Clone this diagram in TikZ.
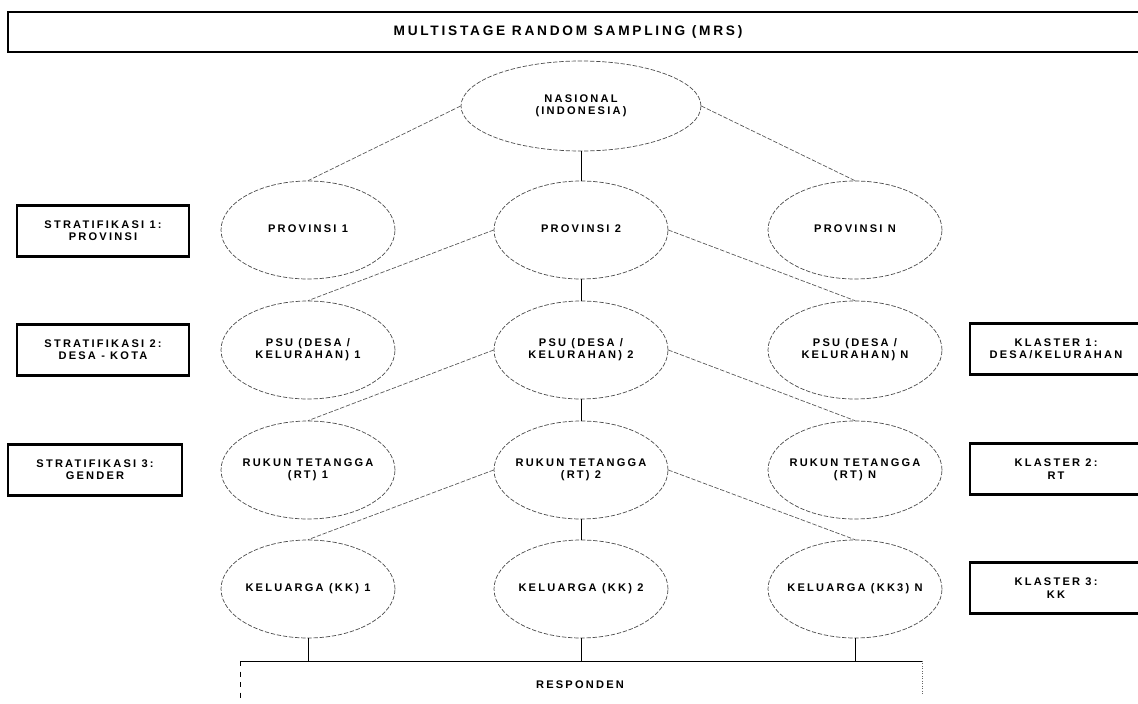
\documentclass[tikz,border=0pt]{standalone}
\usepackage{fontspec}
\usepackage{tikz}
\usetikzlibrary{shapes.geometric}
\newfontfamily\spaced{Liberation Sans}[LetterSpace=20]
\newcommand{\twoline}[1]{\makebox[0pt]{\begin{tabular}{@{}c@{}}#1\end{tabular}}}

\begin{document}
\begin{tikzpicture}[x=0.02cm, y=-0.02cm,
  every node/.style={font=\spaced\bfseries\fontsize{6.3}{7}\selectfont},
  oval/.style={ellipse, draw=black!70, thin, dash pattern=on 2.5pt off 1pt, minimum width=3.48cm, minimum height=1.96cm, inner sep=0pt},
  tag/.style={rectangle, draw, line width=1.6pt, minimum width=3.44cm, minimum height=1.02cm, align=center, inner sep=0pt},
  link/.style={black!65, thin, dash pattern=on 2.5pt off 1pt},
  stem/.style={black, thin}]
\useasboundingbox (0,0) rectangle (1138,703);

\draw[line width=1.6pt] (1150,12) -| (8,52) -- (1150,52);
\node[font=\spaced\bfseries\fontsize{7.8}{9}\selectfont] (title) at (568,32) {MULTISTAGE RANDOM SAMPLING (MRS)};

\node[oval, minimum width=4.8cm, minimum height=1.8cm] (nas) at (581,106) {\twoline{NASIONAL\\(INDONESIA)}};
\foreach \c/\x/\k in {1/308/KK, 2/581/KK, N/855/KK3} {
  \node[oval] (prov\c) at (\x,230) {\twoline{PROVINSI \c}};
  \node[oval] (psu\c) at (\x,350) {\twoline{PSU (DESA /\\KELURAHAN) \c}};
  \node[oval] (rt\c) at (\x,470) {\twoline{RUKUN TETANGGA\\(RT) \c}};
  \node[oval] (kk\c) at (\x,589) {\twoline{KELUARGA (\k) \c}};
}

\node[tag] (str1) at (103,231) {STRATIFIKASI 1:\\PROVINSI};
\node[tag] (str2) at (103,350) {STRATIFIKASI 2:\\DESA - KOTA};
\node[tag, minimum width=3.48cm] (str3) at (95,470) {STRATIFIKASI 3:\\GENDER};
\node[tag] (kls1) at (1056,349) {KLASTER 1:\\DESA/KELURAHAN};
\node[tag] (kls2) at (1056,469) {KLASTER 2:\\RT};
\node[tag] (kls3) at (1056,588) {KLASTER 3:\\KK};

\draw[link] (nas.west) -- (prov1.north);
\draw[link] (nas.east) -- (provN.north);
\draw[stem] (nas.south) -- (prov2.north);
\draw[link] (prov2.west) -- (psu1.north);
\draw[link] (prov2.east) -- (psuN.north);
\draw[stem] (prov2.south) -- (psu2.north);
\draw[link] (psu2.west) -- (rt1.north);
\draw[link] (psu2.east) -- (rtN.north);
\draw[stem] (psu2.south) -- (rt2.north);
\draw[link] (rt2.west) -- (kk1.north);
\draw[link] (rt2.east) -- (kkN.north);
\draw[stem] (rt2.south) -- (kk2.north);

\coordinate (rl) at (240,661);
\coordinate (rr) at (922,661);
\draw[stem] (rl) -- (rr);
\draw[stem, dashed] (rl) -- (240,703);
\draw[black!60, densely dotted] (rr) -- (922,695);
\foreach \c in {1,2,N}
  \draw[stem] (kk\c.south) -- (kk\c.south |- rl);
\node (resp) at (580,685) {RESPONDEN};
\end{tikzpicture}
\end{document}
